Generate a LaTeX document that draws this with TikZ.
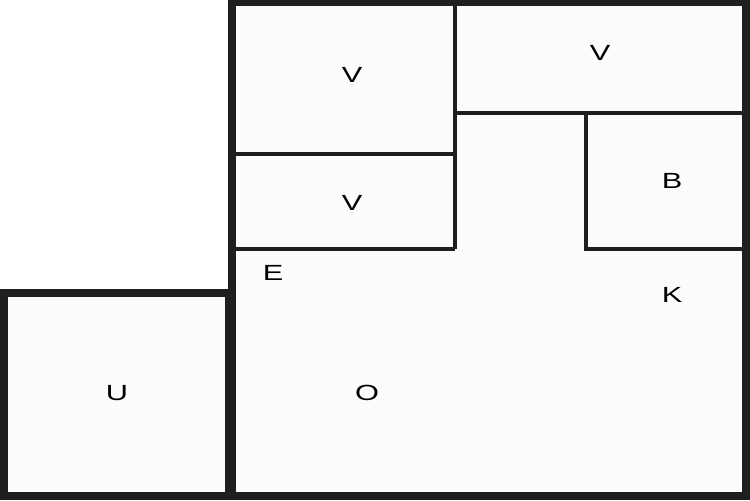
\documentclass[tikz,border=0pt]{standalone}
\usepackage{fontspec}
\setmainfont[FakeStretch=1.4]{Liberation Sans}

\begin{document}
\begin{tikzpicture}[x=0.02cm,y=-0.02cm,
    wall/.style={line width=4.5pt,draw=black!88},
    inner/.style={line width=2.4pt,draw=black!88},
    room/.style={font=\fontsize{12.5}{14}\selectfont}]
      \useasboundingbox (0,0) rectangle (750,500);
      % floor and outer walls
      \fill[white] (0,0) rectangle (750,500);
      \filldraw[wall,fill=white!98!brown] (4,293) rectangle (229,496);
      \filldraw[wall,fill=white!98!brown] (232,2) rectangle (746,496);
      % routine for inner walls
      \draw[inner] (455,2) -- (455,249);
      \draw[inner] (234,154) -- (455,154);
      \draw[inner] (234,249) -- (455,249);
      \draw[inner] (455,113) -- (744,113);
      \draw[inner] (586,113) -- (586,249) -- (744,249);
      % room names
      \node[room] (v1) at (352,75) {V};
      \node[room] (v2) at (352,203) {V};
      \node[room] (v3) at (600,53) {V};
      \node[room] (b) at (672,181) {B};
      \node[room] (e) at (273,273) {E};
      \node[room] (k) at (672,295) {K};
      \node[room] (o) at (367,393) {O};
      \node[room] (u) at (117,393) {U};
    \end{tikzpicture}
\end{document}
